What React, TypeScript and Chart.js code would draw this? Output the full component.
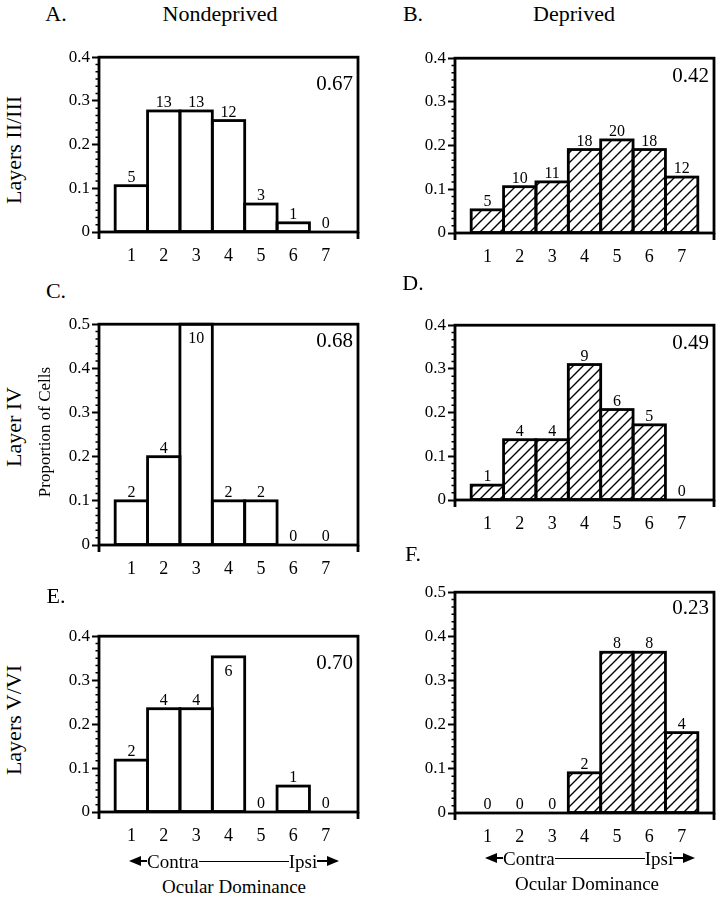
import React, { useEffect, useRef } from 'react';
import { Chart, registerables } from 'chart.js';

Chart.register(...registerables);

const FONT = "'Liberation Serif', 'Times New Roman', serif";
Chart.defaults.font.family = FONT;
Chart.defaults.color = '#000';

// ---- data ----
const odCategories = [1, 2, 3, 4, 5, 6, 7];
const odTickLabels = ['1', '2', '3', '4', '5', '6', '7'];

const countsA = [5, 13, 13, 12, 3, 1, 0];
const propA = [0.106, 0.277, 0.277, 0.255, 0.064, 0.021, 0];
const indexA = '0.67';

const countsB = [5, 10, 11, 18, 20, 18, 12];
const propB = [0.053, 0.106, 0.117, 0.191, 0.213, 0.191, 0.128];
const indexB = '0.42';

const countsC = [2, 4, 10, 2, 2, 0, 0];
const propC = [0.1, 0.2, 0.5, 0.1, 0.1, 0, 0];
const indexC = '0.68';

const countsD = [1, 4, 4, 9, 6, 5, 0];
const propD = [0.034, 0.138, 0.138, 0.31, 0.207, 0.172, 0];
const indexD = '0.49';

const countsE = [2, 4, 4, 6, 0, 1, 0];
const propE = [0.118, 0.235, 0.235, 0.353, 0, 0.059, 0];
const indexE = '0.70';

const countsF = [0, 0, 0, 2, 8, 8, 4];
const propF = [0, 0, 0, 0.091, 0.364, 0.364, 0.182];
const indexF = '0.23';

// ---- layout ----
const PLOT_W = 266;
const AXIS_W = 49;
const PAD_TOP = 10;
const PAD_RIGHT = 6;
const XAXIS_H = 40;

type PanelCfg = {
  key: string;
  counts: number[];
  values: number[];
  index: string;
  yMax: number;
  plotLeft: number;
  plotTop: number;
  plotH: number;
  hatched: boolean;
  inside: number[];
  indexDrop: number;
};

const panels: PanelCfg[] = [
  { key: 'A', counts: countsA, values: propA, index: indexA, yMax: 0.4, plotLeft: 99, plotTop: 55, plotH: 177, hatched: false, inside: [], indexDrop: 33 },
  { key: 'B', counts: countsB, values: propB, index: indexB, yMax: 0.4, plotLeft: 455, plotTop: 56, plotH: 177, hatched: true, inside: [], indexDrop: 24 },
  { key: 'C', counts: countsC, values: propC, index: indexC, yMax: 0.5, plotLeft: 99, plotTop: 322, plotH: 223, hatched: false, inside: [2], indexDrop: 23 },
  { key: 'D', counts: countsD, values: propD, index: indexD, yMax: 0.4, plotLeft: 455, plotTop: 323, plotH: 177, hatched: true, inside: [], indexDrop: 24 },
  { key: 'E', counts: countsE, values: propE, index: indexE, yMax: 0.4, plotLeft: 99, plotTop: 634, plotH: 178, hatched: false, inside: [3], indexDrop: 33 },
  { key: 'F', counts: countsF, values: propF, index: indexF, yMax: 0.5, plotLeft: 455, plotTop: 590, plotH: 223, hatched: true, inside: [], indexDrop: 22 },
];

function makeHatch(): CanvasPattern | string {
  const s = 10;
  const c = document.createElement('canvas');
  c.width = s;
  c.height = s;
  const g = c.getContext('2d');
  if (!g) return '#fff';
  g.fillStyle = '#fff';
  g.fillRect(0, 0, s, s);
  g.strokeStyle = '#000';
  g.lineWidth = 1.4;
  g.beginPath();
  g.moveTo(-1, s + 1);
  g.lineTo(s + 1, -1);
  g.moveTo(-2, 2);
  g.lineTo(2, -2);
  g.moveTo(s - 2, s + 2);
  g.lineTo(s + 2, s - 2);
  g.stroke();
  return g.createPattern(c, 'repeat') || '#fff';
}

function Panel({ cfg }: { cfg: PanelCfg }) {
  const ref = useRef<HTMLCanvasElement>(null);
  const width = AXIS_W + PLOT_W + PAD_RIGHT;
  const height = PAD_TOP + cfg.plotH + XAXIS_H;

  useEffect(() => {
    const canvas = ref.current;
    if (!canvas) return;
    const fill = cfg.hatched ? makeHatch() : '#ffffff';

    const decor = {
      id: 'decor' + cfg.key,
      afterDatasetsDraw(chart: any) {
        const ctx = chart.ctx;
        const meta = chart.getDatasetMeta(0);
        ctx.save();
        ctx.strokeStyle = '#000';
        ctx.lineWidth = 2.8;
        meta.data.forEach((el: any, i: number) => {
          const p = el.getProps(['x', 'y', 'base', 'width'], true);
          if (cfg.values[i] > 0) {
            ctx.strokeRect(p.x - p.width / 2, p.y, p.width, p.base - p.y);
          }
        });
        ctx.fillStyle = '#000';
        ctx.font = `16px ${FONT}`;
        ctx.textAlign = 'center';
        ctx.textBaseline = 'alphabetic';
        meta.data.forEach((el: any, i: number) => {
          const p = el.getProps(['x', 'y'], true);
          const txt = String(cfg.counts[i]);
          if (cfg.inside.includes(i)) {
            ctx.fillText(txt, p.x, p.y + 19);
          } else {
            ctx.fillText(txt, p.x, p.y - 4);
          }
        });
        ctx.restore();
      },
      afterDraw(chart: any) {
        const ctx = chart.ctx;
        const a = chart.chartArea;
        const ys = chart.scales.y;
        ctx.save();
        ctx.strokeStyle = '#000';
        ctx.lineWidth = 2.8;
        ctx.strokeRect(a.left, a.top, a.right - a.left, a.bottom - a.top);
        ctx.beginPath();
        ctx.moveTo(a.left, a.bottom);
        ctx.lineTo(a.left, a.bottom + 7);
        ctx.moveTo(a.right, a.bottom);
        ctx.lineTo(a.right, a.bottom + 7);
        ctx.stroke();
        // minor ticks
        ctx.lineWidth = 1.5;
        const nMinor = 6;
        const total = Math.round((cfg.yMax / 0.1) * nMinor);
        ctx.beginPath();
        for (let k = 0; k <= total; k++) {
          if (k % nMinor === 0) continue;
          const y = ys.getPixelForValue((k * 0.1) / nMinor);
          ctx.moveTo(a.left - 3.5, y);
          ctx.lineTo(a.left, y);
        }
        ctx.stroke();
        // index
        ctx.fillStyle = '#000';
        ctx.font = `21px ${FONT}`;
        ctx.textAlign = 'right';
        ctx.textBaseline = 'alphabetic';
        ctx.fillText(cfg.index, a.right - 5, a.top + cfg.indexDrop);
        ctx.restore();
      },
    };

    const chart = new Chart(canvas, {
      type: 'bar',
      data: {
        datasets: [
          {
            data: cfg.values.map((v, i) => ({ x: odCategories[i], y: v })),
            backgroundColor: fill as any,
            borderWidth: 0,
            barPercentage: 1,
            categoryPercentage: 1,
          },
        ],
      },
      options: {
        responsive: false,
        maintainAspectRatio: false,
        animation: false,
        events: [],
        layout: { padding: { top: PAD_TOP, right: PAD_RIGHT, left: 0, bottom: 0 } },
        plugins: { legend: { display: false }, tooltip: { enabled: false }, title: { display: false } },
        scales: {
          x: {
            type: 'linear',
            min: 0,
            max: 8,
            offset: false,
            grid: { display: false, drawTicks: false },
            border: { display: false },
            ticks: {
              stepSize: 1,
              autoSkip: false,
              maxRotation: 0,
              padding: 13,
              font: { size: 18, family: FONT },
              color: '#000',
              callback: (v: any) => {
                const n = Number(v);
                const idx = odCategories.indexOf(n);
                return idx >= 0 ? odTickLabels[idx] : '';
              },
            },
            afterFit: (s: any) => {
              s.height = XAXIS_H;
            },
          },
          y: {
            min: 0,
            max: cfg.yMax,
            grid: { drawOnChartArea: false, drawTicks: true, tickLength: 7, tickWidth: 2, tickColor: '#000', color: '#000' },
            border: { display: false },
            ticks: {
              stepSize: 0.1,
              padding: 2,
              font: { size: 17, family: FONT },
              color: '#000',
              callback: (v: any) => {
                const n = Number(v);
                return Math.abs(n) < 1e-9 ? '0' : n.toFixed(1);
              },
            },
            afterFit: (s: any) => {
              s.width = AXIS_W;
            },
          },
        },
      },
      plugins: [decor],
    } as any);
    return () => chart.destroy();
  }, [cfg]);

  return (
    <canvas
      ref={ref}
      width={width}
      height={height}
      style={{
        position: 'absolute',
        left: cfg.plotLeft - AXIS_W,
        top: cfg.plotTop - PAD_TOP,
        width,
        height,
      }}
    />
  );
}

const txt = (s: string, x: number, y: number, size: number, rotate = false, extra: any = {}) => (
  <div
    key={s + x + y}
    style={{
      position: 'absolute',
      left: x,
      top: y,
      transform: `translate(-50%, -50%)${rotate ? ' rotate(-90deg)' : ''}`,
      fontFamily: FONT,
      fontSize: size,
      whiteSpace: 'nowrap',
      lineHeight: 1,
      color: '#000',
      ...extra,
    }}
  >
    {s}
  </div>
);

function ContraIpsi({ plotLeft, y }: { plotLeft: number; y: number }) {
  const x0 = plotLeft + 30;
  return (
    <div
      style={{
        position: 'absolute',
        left: x0,
        top: y - 11,
        height: 22,
        display: 'flex',
        alignItems: 'center',
        fontFamily: FONT,
        fontSize: 19,
        lineHeight: 1,
        color: '#000',
      }}
    >
      <div style={{ width: 0, height: 0, borderTop: '5px solid transparent', borderBottom: '5px solid transparent', borderRight: '12px solid #000' }} />
      <div style={{ width: 6, height: 1.5, background: '#000' }} />
      <span>Contra</span>
      <div style={{ width: 90, height: 1.5, background: '#000', marginTop: 1 }} />
      <span>Ipsi</span>
      <div style={{ width: 10, height: 1.5, background: '#000' }} />
      <div style={{ width: 0, height: 0, borderTop: '5px solid transparent', borderBottom: '5px solid transparent', borderLeft: '12px solid #000' }} />
    </div>
  );
}

export default function App() {
  return (
    <div style={{ position: 'absolute', left: 0, top: 0, width: 728, height: 899, background: '#fff', overflow: 'hidden' }}>
      {panels.map((p) => (
        <Panel key={p.key} cfg={p} />
      ))}
      {txt('A.', 56, 14, 22)}
      {txt('Nondeprived', 220, 14, 22)}
      {txt('B.', 413, 14, 22)}
      {txt('Deprived', 574, 14, 22)}
      {txt('C.', 56, 291, 22)}
      {txt('D.', 413, 283, 22)}
      {txt('E.', 56, 596, 22)}
      {txt('F.', 413, 554, 22)}
      {txt('Layers II/III', 14, 150, 22, true)}
      {txt('Layer IV', 14, 427, 22, true)}
      {txt('Proportion of Cells', 44, 432, 17, true)}
      {txt('Layers V/VI', 14, 720, 22, true)}
      <ContraIpsi plotLeft={99} y={861} />
      <ContraIpsi plotLeft={455} y={858} />
      {txt('Ocular Dominance', 234, 886, 19)}
      {txt('Ocular Dominance', 587, 883, 19)}
    </div>
  );
}
